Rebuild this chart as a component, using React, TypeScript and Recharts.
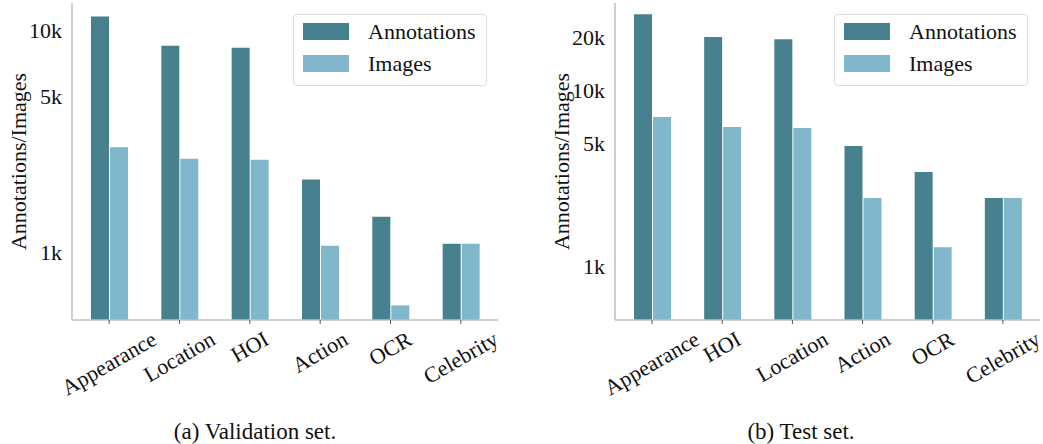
import { BarChart, Bar, XAxis, YAxis, Legend } from "recharts";

// (a) validation set
const valCategories = ["Appearance", "Location", "HOI", "Action", "OCR", "Celebrity"];
const valAnnotations = [11480, 8470, 8300, 2120, 1440, 1090];
const valImages = [2960, 2630, 2600, 1067, 575, 1090];
const valTicks = [1000, 5000, 10000];

// (b) test set
const testCategories = ["Appearance", "HOI", "Location", "Action", "OCR", "Celebrity"];
const testAnnotations = [26900, 19950, 19400, 4820, 3430, 2450];
const testImages = [7030, 6170, 6090, 2450, 1290, 2450];
const testTicks = [1000, 5000, 10000, 20000];

const FONT = '"Liberation Serif", "Times New Roman", serif';
const DARK = "#47818f";
const LIGHT = "#80b7ca";
const AXIS = "#bfbfbf";

let ctx: CanvasRenderingContext2D | null = null;
function measure(s: string) {
  if (!ctx) {
    ctx = document.createElement("canvas").getContext("2d");
  }
  if (!ctx) return s.length * 10;
  ctx.font = `22px ${FONT}`;
  return ctx.measureText(s).width;
}

// x labels rotated 30deg, centred under the tick
const RotatedTick = ({ x, y, payload }: any) => {
  const w = measure(payload.value);
  const cy = y + 5 + (0.5 * w + 0.866 * 15) / 2;
  return (
    <g transform={`translate(${x},${cy}) rotate(-30)`}>
      <text x={0} y={0} dy={7} textAnchor="middle" fontFamily={FONT} fontSize={22} fill="#111">
        {payload.value}
      </text>
    </g>
  );
};

const LegendBox = ({ payload }: any) => (
  <div
    style={{
      width: 194,
      height: 72,
      border: "1px solid #dddddd",
      borderRadius: 4,
      background: "#fff",
      position: "relative",
      boxSizing: "border-box",
      fontFamily: FONT,
      fontSize: 22,
      color: "#111",
    }}
  >
    {(payload || []).map((p: any, i: number) => (
      <div
        key={p.value}
        style={{ position: "absolute", left: 9, top: 8 + i * 32, height: 17, display: "flex", alignItems: "center" }}
      >
        <div style={{ width: 46, height: 17, background: p.color }} />
        <span style={{ marginLeft: 19, lineHeight: "17px" }}>{p.value}</span>
      </div>
    ))}
  </div>
);

const fmt = (v: number) => `${v / 1000}k`;

function Panel({
  categories,
  annotations,
  images,
  ticks,
  domain,
  width,
  axisWidth,
  rightMargin,
  labelX,
  legendLeft,
}: any) {
  const data = categories.map((c: string, i: number) => ({
    name: c,
    annotations: annotations[i],
    images: images[i],
  }));
  return (
    <BarChart
      width={width}
      height={400}
      data={data}
      margin={{ top: 3, right: rightMargin, bottom: 0, left: 0 }}
      barGap={1}
      barSize={18}
    >
      <XAxis
        dataKey="name"
        interval={0}
        height={80}
        padding={{ left: 2, right: 2 }}
        axisLine={{ stroke: AXIS, strokeWidth: 1.5 }}
        tickLine={{ stroke: "#555" }}
        tickSize={4}
        tick={<RotatedTick />}
      />
      <YAxis
        scale="log"
        type="number"
        domain={domain}
        allowDataOverflow
        ticks={ticks}
        tickFormatter={fmt}
        width={axisWidth}
        tickLine={false}
        tickMargin={4}
        axisLine={{ stroke: AXIS, strokeWidth: 1.5 }}
        tick={{ fontFamily: FONT, fontSize: 22, fill: "#111" }}
        label={() => (
          <text
            x={labelX}
            y={161.5}
            transform={`rotate(-90, ${labelX}, 161.5)`}
            textAnchor="middle"
            dominantBaseline="central"
            fontFamily={FONT}
            fontSize={22}
            fill="#111"
          >
            Annotations/Images
          </text>
        )}
      />
      <Legend
        layout="vertical"
        align="center"
        verticalAlign="middle"
        content={<LegendBox />}
        wrapperStyle={{ left: legendLeft, top: 14, width: 194, height: 72 }}
      />
      <Bar dataKey="annotations" name="Annotations" fill={DARK} isAnimationActive={false} />
      <Bar dataKey="images" name="Images" fill={LIGHT} isAnimationActive={false} />
    </BarChart>
  );
}

export default function App() {
  return (
    <div style={{ position: "absolute", left: 0, top: 0, width: 1043, height: 444, background: "#fff" }}>
      <div style={{ position: "absolute", left: 0, top: 0 }}>
        <Panel
          categories={valCategories}
          annotations={valAnnotations}
          images={valImages}
          ticks={valTicks}
          domain={[494, 13200]}
          width={520}
          axisWidth={72}
          rightMargin={22}
          labelX={18}
          legendLeft={293}
        />
      </div>
      <div style={{ position: "absolute", left: 520, top: 0 }}>
        <Panel
          categories={testCategories}
          annotations={testAnnotations}
          images={testImages}
          ticks={testTicks}
          domain={[499, 31100]}
          width={523}
          axisWidth={95}
          rightMargin={3}
          labelX={41}
          legendLeft={314}
        />
      </div>
      <svg width={1043} height={44} style={{ position: "absolute", left: 0, top: 400 }}>
        <text x={255} y={39} textAnchor="middle" fontFamily={FONT} fontSize={23} fill="#111">
          (a) Validation set.
        </text>
        <text x={801} y={39} textAnchor="middle" fontFamily={FONT} fontSize={23} fill="#111">
          (b) Test set.
        </text>
      </svg>
    </div>
  );
}
